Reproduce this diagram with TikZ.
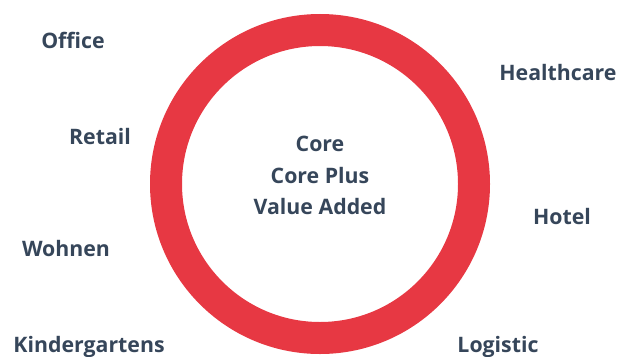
\documentclass[tikz,border=0pt]{standalone}
\usepackage{fontspec}
\setmainfont{Open Sans}[UprightFont=* Bold]
\definecolor{ringred}{HTML}{E73843}
\definecolor{slate}{HTML}{36465A}
\begin{document}
\begin{tikzpicture}[x=1pt,y=-1pt,
  lbl/.style={anchor=base,inner sep=0pt,text=slate,font=\fontsize{21.3}{21.3}\selectfont}]
\useasboundingbox (0,0) rectangle (618,356);
\draw[ringred,line width=32pt] (320,184) circle[radius=154];
\node[lbl] (office) at (73,48) {Office};
\node[lbl] (health) at (558,80) {Healthcare};
\node[lbl] (retail) at (100,144) {Retail};
\node[lbl] (core) at (320,151) {Core};
\node[lbl] (coreplus) at (320,183) {Core Plus};
\node[lbl] (value) at (320,214) {Value Added};
\node[lbl] (hotel) at (562,224) {Hotel};
\node[lbl] (wohnen) at (66,256) {Wohnen};
\node[lbl] (kinder) at (89,352) {Kindergartens};
\node[lbl] (logistic) at (498,352) {Logistic};
\end{tikzpicture}
\end{document}
